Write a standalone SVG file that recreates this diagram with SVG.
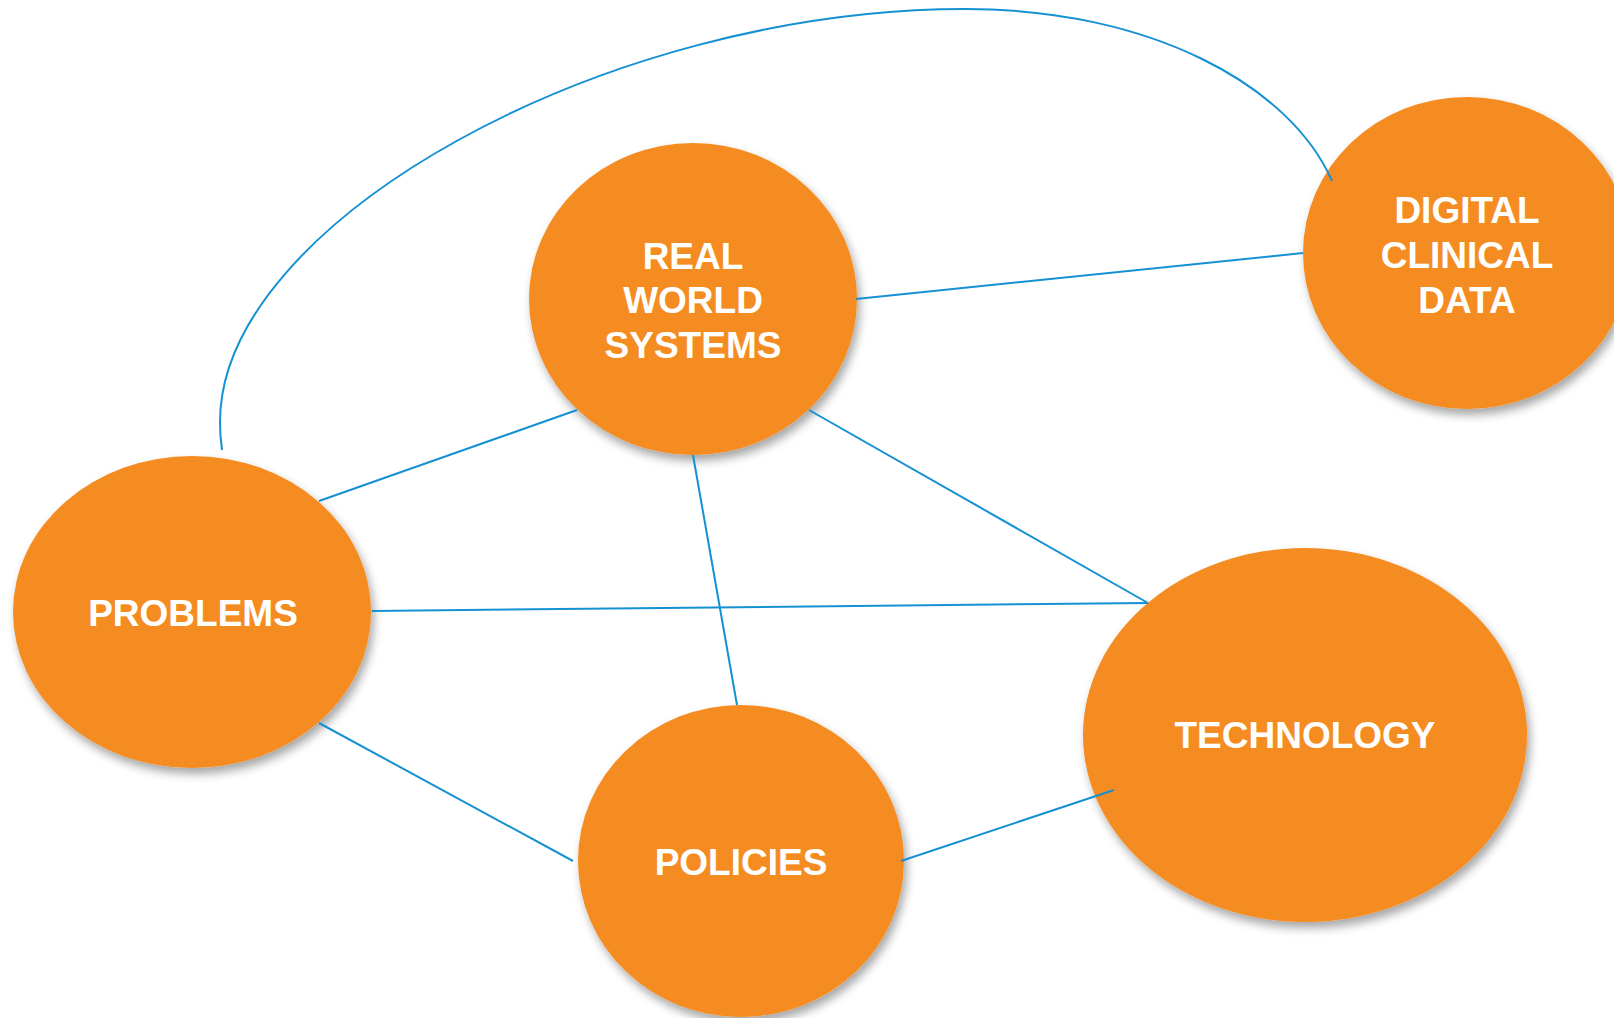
<svg xmlns="http://www.w3.org/2000/svg" width="1614" height="1018" viewBox="0 0 1614 1018">
<style>
.node{fill:#F58C22;filter:url(#sh);}
.lbl{fill:#FFFFFF;font-family:"Liberation Sans",Arial,sans-serif;font-weight:bold;font-size:37px;text-anchor:middle;}
.conn{stroke:#1591D3;stroke-width:2;fill:none;}
</style>
<defs>
<filter id="sh" x="-20%" y="-20%" width="140%" height="140%">
<feDropShadow dx="3" dy="6" stdDeviation="5" flood-color="#000" flood-opacity="0.35"/>
</filter>
</defs>
<rect width="1614" height="1018" fill="#FFFFFF"/>
<g id="node-real-world-systems">
<ellipse class="node" cx="693" cy="299" rx="164" ry="156"/>
<text class="lbl" x="693" y="269">REAL</text>
<text class="lbl" x="693" y="313">WORLD</text>
<text class="lbl" x="693" y="358">SYSTEMS</text>
</g>
<g id="node-digital-clinical-data">
<ellipse class="node" cx="1467" cy="253" rx="164" ry="156"/>
<text class="lbl" x="1467" y="223">DIGITAL</text>
<text class="lbl" x="1467" y="268">CLINICAL</text>
<text class="lbl" x="1467" y="313">DATA</text>
</g>
<g id="node-problems">
<ellipse class="node" cx="192" cy="612" rx="179" ry="156"/>
<text class="lbl" x="193" y="626">PROBLEMS</text>
</g>
<g id="node-policies">
<ellipse class="node" cx="741" cy="861" rx="163" ry="156"/>
<text class="lbl" x="741" y="875">POLICIES</text>
</g>
<g id="node-technology">
<ellipse class="node" cx="1305" cy="735" rx="222" ry="187"/>
<text class="lbl" x="1305" y="748">TECHNOLOGY</text>
</g>
<g id="connectors">
<path class="conn" d="M222,450 Q220,436 220,422 C220,222 605,9 965,9 C1150,9 1290,85 1332,181"/>
<line class="conn" x1="856" y1="299" x2="1303" y2="253"/>
<line class="conn" x1="319" y1="501" x2="577" y2="410"/>
<line class="conn" x1="693" y1="455" x2="737" y2="705"/>
<line class="conn" x1="809" y1="410" x2="1148" y2="603"/>
<line class="conn" x1="372" y1="611" x2="1148" y2="603"/>
<line class="conn" x1="319" y1="723" x2="573" y2="861"/>
<line class="conn" x1="901" y1="861" x2="1114" y2="790"/>
</g>
</svg>
